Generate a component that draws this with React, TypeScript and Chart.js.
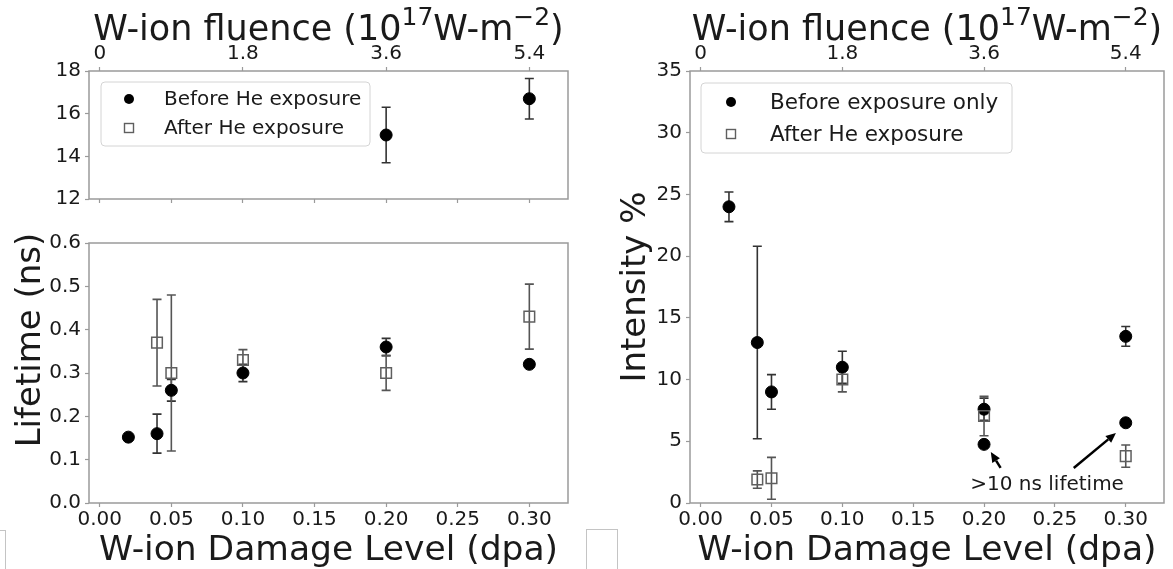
import React, { useEffect, useRef } from 'react';
import { Chart, registerables } from 'chart.js';

Chart.register(...registerables);

// ---------------- data ----------------
const X_MIN = -0.0075;
const X_MAX = 0.327;
const FLUENCE_PER_DPA = 18;
const dpaTicks = [0, 0.05, 0.1, 0.15, 0.2, 0.25, 0.3];
const fluenceTicks = [0, 1.8, 3.6, 5.4];
const lifeLongTicks = [12, 14, 16, 18];
const lifeShortTicks = [0, 0.1, 0.2, 0.3, 0.4, 0.5, 0.6];
const intensityTicks = [0, 5, 10, 15, 20, 25, 30, 35];

// Long lifetime component (top-left panel)
const lifeLongBeforeX = [0.2, 0.3];
const lifeLongBeforeY = [15.0, 16.7];
const lifeLongBeforeErr = [1.3, 0.95];

// Short lifetime component (bottom-left panel)
const lifeBeforeX = [0.02, 0.04, 0.05, 0.1, 0.2, 0.3];
const lifeBeforeY = [0.152, 0.16, 0.26, 0.3, 0.36, 0.32];
const lifeBeforeErr = [0, 0.045, 0.025, 0.02, 0.02, 0.005];
const lifeAfterX = [0.04, 0.05, 0.1, 0.2, 0.3];
const lifeAfterY = [0.37, 0.3, 0.33, 0.3, 0.43];
const lifeAfterErr = [0.1, 0.18, 0.024, 0.04, 0.075];

// Intensity (right panel)
const intBeforeX = [0.02, 0.04, 0.05, 0.1, 0.2, 0.2, 0.3, 0.3];
const intBeforeY = [24, 13, 9, 11, 7.6, 4.75, 13.5, 6.5];
const intBeforeErr = [1.2, 7.8, 1.4, 1.3, 0.9, 0, 0.8, 0];
const intAfterX = [0.04, 0.05, 0.1, 0.2, 0.3];
const intAfterY = [1.9, 2.0, 10, 7.05, 3.8];
const intAfterErr = [0.7, 1.7, 1.0, 1.6, 0.9];

// annotation (data units)
const noteText = '>10 ns lifetime';
const noteAt = [0.2445, 1.5];
const arrowTails = [[0.2117, 2.84], [0.2633, 2.84]];
const arrowTips = [[0.2048, 4.13], [0.2931, 5.67]];

const legendLeft = ['Before He exposure', 'After He exposure'];
const legendRight = ['Before exposure only', 'After He exposure'];
const xLabel = 'W-ion Damage Level (dpa)';

// ---------------- style ----------------
const FONT = '"DejaVu Sans", "Liberation Sans", sans-serif';
const TEXT = '#1a1a1a';
const SPINE = '#9a9a9a';
const ERR_BEFORE = '#333333';
const ERR_AFTER = '#555555';
const SQUARE_EDGE = '#5f5f5f';

const pts = (xs: number[], ys: number[]) => xs.map((x, i) => ({ x, y: ys[i] }));
const fixedTicks = (values: number[]) => (scale: any) => {
  scale.ticks = values.map((v) => ({ value: v }));
};

const beforeStyle = {
  pointStyle: 'circle',
  pointRadius: 6,
  backgroundColor: '#000',
  borderColor: '#000',
  borderWidth: 1,
  showLine: false,
};
const afterStyle = {
  pointStyle: 'rect',
  pointRadius: 7.5,
  backgroundColor: 'rgba(255,255,255,0)',
  borderColor: SQUARE_EDGE,
  borderWidth: 1.5,
  showLine: false,
};

function grid() {
  return { display: true, drawOnChartArea: false, drawTicks: true, tickLength: 4, color: SPINE, tickWidth: 1.2 };
}

function xBottom(height: number, showLabels: boolean) {
  return {
    type: 'linear',
    position: 'bottom',
    min: X_MIN,
    max: X_MAX,
    afterBuildTicks: fixedTicks(dpaTicks),
    ticks: {
      display: showLabels,
      font: { family: FONT, size: 20 },
      color: TEXT,
      padding: 1,
      maxRotation: 0,
      autoSkip: false,
      callback: (v: number) => v.toFixed(2),
    },
    grid: grid(),
    border: { display: false },
    afterFit: (s: any) => {
      s.height = height;
    },
  };
}

function xTop(height: number) {
  return {
    type: 'linear',
    position: 'top',
    min: X_MIN * FLUENCE_PER_DPA,
    max: X_MAX * FLUENCE_PER_DPA,
    afterBuildTicks: fixedTicks(fluenceTicks),
    ticks: {
      font: { family: FONT, size: 20 },
      color: TEXT,
      padding: 1,
      maxRotation: 0,
      autoSkip: false,
      callback: (v: number) => (v === 0 ? '0' : v.toFixed(1)),
    },
    grid: grid(),
    border: { display: false },
    afterFit: (s: any) => {
      s.height = height;
    },
  };
}

function yLeft(min: number, max: number, ticks: number[], width: number, fmt: (v: number) => string) {
  return {
    type: 'linear',
    position: 'left',
    min,
    max,
    afterBuildTicks: fixedTicks(ticks),
    ticks: {
      font: { family: FONT, size: 20 },
      color: TEXT,
      padding: 4,
      autoSkip: false,
      callback: fmt,
    },
    grid: grid(),
    border: { display: false },
    afterFit: (s: any) => {
      s.width = width;
    },
  };
}

function drawErrors(chart: any, xs: number[], ys: number[], errs: number[], color: string) {
  const ctx = chart.ctx;
  const xs_ = chart.scales.x;
  const ys_ = chart.scales.y;
  ctx.save();
  ctx.strokeStyle = color;
  ctx.lineWidth = 1.6;
  for (let i = 0; i < xs.length; i++) {
    if (!errs[i]) continue;
    const px = xs_.getPixelForValue(xs[i]);
    const y1 = ys_.getPixelForValue(ys[i] + errs[i]);
    const y2 = ys_.getPixelForValue(ys[i] - errs[i]);
    ctx.beginPath();
    ctx.moveTo(px, y1);
    ctx.lineTo(px, y2);
    ctx.moveTo(px - 4.5, y1);
    ctx.lineTo(px + 4.5, y1);
    ctx.moveTo(px - 4.5, y2);
    ctx.lineTo(px + 4.5, y2);
    ctx.stroke();
  }
  ctx.restore();
}

function drawFrame(chart: any) {
  const { ctx, chartArea: a } = chart;
  ctx.save();
  ctx.strokeStyle = SPINE;
  ctx.lineWidth = 1.5;
  ctx.strokeRect(a.left, a.top, a.right - a.left, a.bottom - a.top);
  ctx.restore();
}

function drawFluenceTitle(chart: any, baseline: number) {
  const { ctx, chartArea: a } = chart;
  const size = 35;
  const sup = Math.round(size * 0.7);
  const parts: [string, boolean][] = [
    ['W-ion fluence (10', false],
    ['17', true],
    ['W-m', false],
    ['\u22122', true],
    [')', false],
  ];
  ctx.save();
  ctx.fillStyle = TEXT;
  ctx.textBaseline = 'alphabetic';
  ctx.textAlign = 'left';
  let total = 0;
  const widths = parts.map(([t, s]) => {
    ctx.font = `${s ? sup : size}px ${FONT}`;
    const w = ctx.measureText(t).width;
    total += w;
    return w;
  });
  let x = (a.left + a.right) / 2 - total / 2;
  parts.forEach(([t, s], i) => {
    ctx.font = `${s ? sup : size}px ${FONT}`;
    ctx.fillText(t, x, s ? baseline - size * 0.42 : baseline);
    x += widths[i];
  });
  ctx.restore();
}

function drawXLabel(chart: any, baseline: number) {
  const { ctx, chartArea: a } = chart;
  ctx.save();
  ctx.fillStyle = TEXT;
  ctx.font = `34.5px ${FONT}`;
  ctx.textAlign = 'center';
  ctx.textBaseline = 'alphabetic';
  ctx.fillText(xLabel, (a.left + a.right) / 2, baseline);
  ctx.restore();
}

function drawYLabel(chart: any, text: string, baselineX: number, centerY: number) {
  const { ctx } = chart;
  ctx.save();
  ctx.fillStyle = TEXT;
  ctx.font = `34px ${FONT}`;
  ctx.translate(baselineX, centerY);
  ctx.rotate(-Math.PI / 2);
  ctx.textAlign = 'center';
  ctx.textBaseline = 'alphabetic';
  ctx.fillText(text, 0, 0);
  ctx.restore();
}

function drawLegend(
  chart: any,
  labels: string[],
  box: { dx: number; dy: number; w: number; h: number },
  markerDx: number,
  textDx: number,
  rowY: number[],
  fontSize: number
) {
  const { ctx, chartArea: a } = chart;
  const x0 = a.left + box.dx;
  const y0 = a.top + box.dy;
  ctx.save();
  ctx.fillStyle = 'rgba(255,255,255,0.85)';
  ctx.strokeStyle = '#d4d4d4';
  ctx.lineWidth = 1;
  const r = 4;
  ctx.beginPath();
  ctx.moveTo(x0 + r, y0);
  ctx.arcTo(x0 + box.w, y0, x0 + box.w, y0 + box.h, r);
  ctx.arcTo(x0 + box.w, y0 + box.h, x0, y0 + box.h, r);
  ctx.arcTo(x0, y0 + box.h, x0, y0, r);
  ctx.arcTo(x0, y0, x0 + box.w, y0, r);
  ctx.closePath();
  ctx.fill();
  ctx.stroke();
  // markers
  const mx = x0 + markerDx;
  ctx.fillStyle = '#000';
  ctx.beginPath();
  ctx.arc(mx, y0 + rowY[0], 5, 0, Math.PI * 2);
  ctx.fill();
  ctx.strokeStyle = SQUARE_EDGE;
  ctx.lineWidth = 1.4;
  ctx.strokeRect(mx - 4.5, y0 + rowY[1] - 4.5, 9, 9);
  // labels
  ctx.fillStyle = TEXT;
  ctx.font = `${fontSize}px ${FONT}`;
  ctx.textAlign = 'left';
  ctx.textBaseline = 'middle';
  labels.forEach((t, i) => ctx.fillText(t, x0 + textDx, y0 + rowY[i] + 1));
  ctx.restore();
}

function drawArrow(ctx: any, x1: number, y1: number, x2: number, y2: number) {
  const ang = Math.atan2(y2 - y1, x2 - x1);
  const head = 10;
  const hw = 4.5;
  const bx = x2 - head * Math.cos(ang);
  const by = y2 - head * Math.sin(ang);
  ctx.save();
  ctx.strokeStyle = '#000';
  ctx.fillStyle = '#000';
  ctx.lineWidth = 2.5;
  ctx.beginPath();
  ctx.moveTo(x1, y1);
  ctx.lineTo(bx, by);
  ctx.stroke();
  ctx.beginPath();
  ctx.moveTo(x2, y2);
  ctx.lineTo(bx + hw * Math.sin(ang), by - hw * Math.cos(ang));
  ctx.lineTo(bx - hw * Math.sin(ang), by + hw * Math.cos(ang));
  ctx.closePath();
  ctx.fill();
  ctx.restore();
}

function baseOptions(padding: any, scales: any) {
  return {
    responsive: false,
    maintainAspectRatio: false,
    animation: false,
    devicePixelRatio: 1,
    events: [],
    layout: { padding },
    plugins: { legend: { display: false }, tooltip: { enabled: false }, title: { display: false } },
    scales,
  };
}

// ---------------- chart configs ----------------
function topLeftConfig(): any {
  return {
    type: 'scatter',
    data: {
      datasets: [
        { label: legendLeft[0], data: pts(lifeLongBeforeX, lifeLongBeforeY), ...beforeStyle, order: 2 },
      ],
    },
    options: baseOptions(
      { left: 0, right: 17, top: 0, bottom: 0 },
      {
        x: xBottom(13, false),
        x2: xTop(71),
        y: yLeft(12, 18, lifeLongTicks, 89, (v: number) => String(v)),
      }
    ),
    plugins: [
      {
        id: 'deco1',
        beforeDatasetsDraw(chart: any) {
          drawFrame(chart);
          drawErrors(chart, lifeLongBeforeX, lifeLongBeforeY, lifeLongBeforeErr, ERR_BEFORE);
        },
        afterDraw(chart: any) {
          drawLegend(chart, legendLeft, { dx: 12, dy: 11, w: 269, h: 64 }, 28, 63, [17, 46], 20);
          drawFluenceTitle(chart, 40);
        },
      },
    ],
  };
}

function bottomLeftConfig(): any {
  return {
    type: 'scatter',
    data: {
      datasets: [
        { label: legendLeft[0], data: pts(lifeBeforeX, lifeBeforeY), ...beforeStyle, order: 2 },
        { label: legendLeft[1], data: pts(lifeAfterX, lifeAfterY), ...afterStyle, order: 1 },
      ],
    },
    options: baseOptions(
      { left: 0, right: 17, top: 28, bottom: 0 },
      {
        x: xBottom(66, true),
        y: yLeft(0, 0.6, lifeShortTicks, 89, (v: number) => v.toFixed(1)),
      }
    ),
    plugins: [
      {
        id: 'deco2',
        beforeDatasetsDraw(chart: any) {
          drawFrame(chart);
          drawErrors(chart, lifeBeforeX, lifeBeforeY, lifeBeforeErr, ERR_BEFORE);
          drawErrors(chart, lifeAfterX, lifeAfterY, lifeAfterErr, ERR_AFTER);
        },
        afterDraw(chart: any) {
          drawXLabel(chart, 345);
          drawYLabel(chart, 'Lifetime (ns)', 40, 125);
        },
      },
    ],
  };
}

function rightConfig(): any {
  return {
    type: 'scatter',
    data: {
      datasets: [
        { label: legendRight[0], data: pts(intBeforeX, intBeforeY), ...beforeStyle, order: 2 },
        { label: legendRight[1], data: pts(intAfterX, intAfterY), ...afterStyle, order: 1 },
      ],
    },
    options: baseOptions(
      { left: 0, right: 3, top: 0, bottom: 0 },
      {
        x: xBottom(66, true),
        x2: xTop(71),
        y: yLeft(0, 35, intensityTicks, 105, (v: number) => String(v)),
      }
    ),
    plugins: [
      {
        id: 'deco3',
        beforeDatasetsDraw(chart: any) {
          drawFrame(chart);
          drawErrors(chart, intBeforeX, intBeforeY, intBeforeErr, ERR_BEFORE);
          drawErrors(chart, intAfterX, intAfterY, intAfterErr, ERR_AFTER);
        },
        afterDraw(chart: any) {
          const { ctx, scales } = chart;
          const X = (v: number) => scales.x.getPixelForValue(v);
          const Y = (v: number) => scales.y.getPixelForValue(v);
          arrowTails.forEach((t, i) => {
            drawArrow(ctx, X(t[0]), Y(t[1]), X(arrowTips[i][0]), Y(arrowTips[i][1]));
          });
          ctx.save();
          ctx.fillStyle = TEXT;
          ctx.font = `20px ${FONT}`;
          ctx.textAlign = 'center';
          ctx.textBaseline = 'middle';
          ctx.fillText(noteText, X(noteAt[0]), Y(noteAt[1]));
          ctx.restore();
          drawLegend(chart, legendRight, { dx: 11, dy: 12, w: 311, h: 70 }, 30, 69, [19, 51], 21.5);
          drawFluenceTitle(chart, 40);
          drawXLabel(chart, 560);
          drawYLabel(chart, 'Intensity %', 60, 287);
        },
      },
    ],
  };
}

function ChartCanvas(props: { left: number; top: number; width: number; height: number; make: () => any }) {
  const ref = useRef<HTMLCanvasElement | null>(null);
  useEffect(() => {
    const chart = new Chart(ref.current as HTMLCanvasElement, props.make());
    return () => chart.destroy();
  }, []);
  return (
    <canvas
      ref={ref}
      width={props.width}
      height={props.height}
      style={{ position: 'absolute', left: props.left, top: props.top, width: props.width, height: props.height }}
    />
  );
}

export default function App() {
  useEffect(() => {
    document.body.style.margin = '0';
    document.body.style.background = '#fff';
  }, []);
  return (
    <div style={{ position: 'relative', width: 1173, height: 569, overflow: 'hidden', background: '#fff' }}>
      <ChartCanvas left={0} top={0} width={585} height={215} make={topLeftConfig} />
      <ChartCanvas left={0} top={215} width={585} height={354} make={bottomLeftConfig} />
      <ChartCanvas left={585} top={0} width={588} height={569} make={rightConfig} />
      <div style={{ position: 'absolute', left: -2, top: 530, width: 6, height: 50, border: '1px solid #c4c4c4' }} />
      <div style={{ position: 'absolute', left: 586, top: 529, width: 30, height: 50, border: '1px solid #c4c4c4' }} />
    </div>
  );
}
